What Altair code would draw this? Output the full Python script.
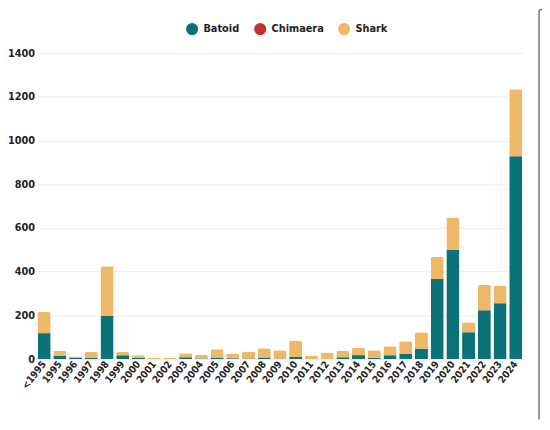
import altair as alt
import pandas as pd

years = ["<1995"] + [str(y) for y in range(1995, 2025)]
batoid = [118, 15, 5, 6, 197, 18, 5, 1, 0, 9, 3, 7, 4, 3, 7, 2, 10, 0, 1, 9,
          18, 6, 18, 23, 47, 367, 500, 123, 223, 256, 928]
chimaera = [2, 0, 0, 0, 0, 0, 0, 0, 0, 0, 0, 0, 0, 0, 0, 1, 0, 0, 0, 0,
            1, 0, 0, 1, 0, 0, 0, 0, 0, 0, 0]
shark = [95, 23, 7, 27, 228, 14, 13, 6, 5, 18, 17, 38, 22, 32, 43, 38, 74, 16, 29, 29,
         33, 35, 41, 58, 76, 100, 148, 46, 117, 81, 307]
groups = ["Batoid", "Chimaera", "Shark"]
colors = ["#0b727a", "#c4302b", "#eeb868"]
y_ticks = [0, 200, 400, 600, 800, 1000, 1200, 1400]

rows = []
for i, yr in enumerate(years):
    for g, vals in zip(groups, [batoid, chimaera, shark]):
        rows.append({"year": yr, "group": g, "count": vals[i], "order": groups.index(g)})
df = pd.DataFrame(rows)

FONT = "DejaVu Sans Condensed, sans-serif"

bars = alt.Chart(df).mark_bar(cornerRadiusTopLeft=2, cornerRadiusTopRight=2).encode(
    x=alt.X("year:N", sort=years, title=None,
            scale=alt.Scale(paddingInner=0.17, paddingOuter=0),
            axis=alt.Axis(labelAngle=-52, labelFont=FONT, labelFontWeight="bold",
                          labelFontSize=10, labelColor="#222", ticks=False, domain=False,
                          labelPadding=3)),
    y=alt.Y("count:Q", stack="zero", title=None,
            scale=alt.Scale(domain=[0, 1400], nice=False),
            axis=alt.Axis(values=y_ticks, format="d", labelFont=FONT, labelFontWeight="bold",
                          labelFontSize=11, labelColor="#222", ticks=False, domain=False,
                          gridColor="#ebebeb", labelPadding=3)),
    color=alt.Color("group:N", sort=groups,
                    scale=alt.Scale(domain=groups, range=colors),
                    legend=alt.Legend(title=None, orient="none", direction="horizontal",
                                      legendX=150, legendY=-31,
                                      symbolType="circle", symbolSize=150, symbolStrokeWidth=0,
                                      labelFont=FONT, labelFontWeight="bold", labelFontSize=11,
                                      labelColor="#222", columnPadding=14, labelOffset=5)),
    order=alt.Order("order:Q"),
)

frame = pd.DataFrame({"a": [0]})
border = alt.Chart(frame).mark_rule(color="#777", strokeWidth=1.5).encode(
    x=alt.value(508), y=alt.value(-44), y2=alt.value(371)
)
hook = alt.Chart(frame).mark_rule(color="#777", strokeWidth=1.5).encode(
    x=alt.value(508), x2=alt.value(511), y=alt.value(-44)
)

chart = alt.layer(bars, border, hook).properties(
    width=491, height=310,
    autosize=alt.AutoSizeParams(type="none"),
    padding={"left": 30, "top": 43, "right": 20, "bottom": 60},
).configure_view(stroke=None)

chart.save("out.html", embed_options={"renderer": "svg", "actions": False})
